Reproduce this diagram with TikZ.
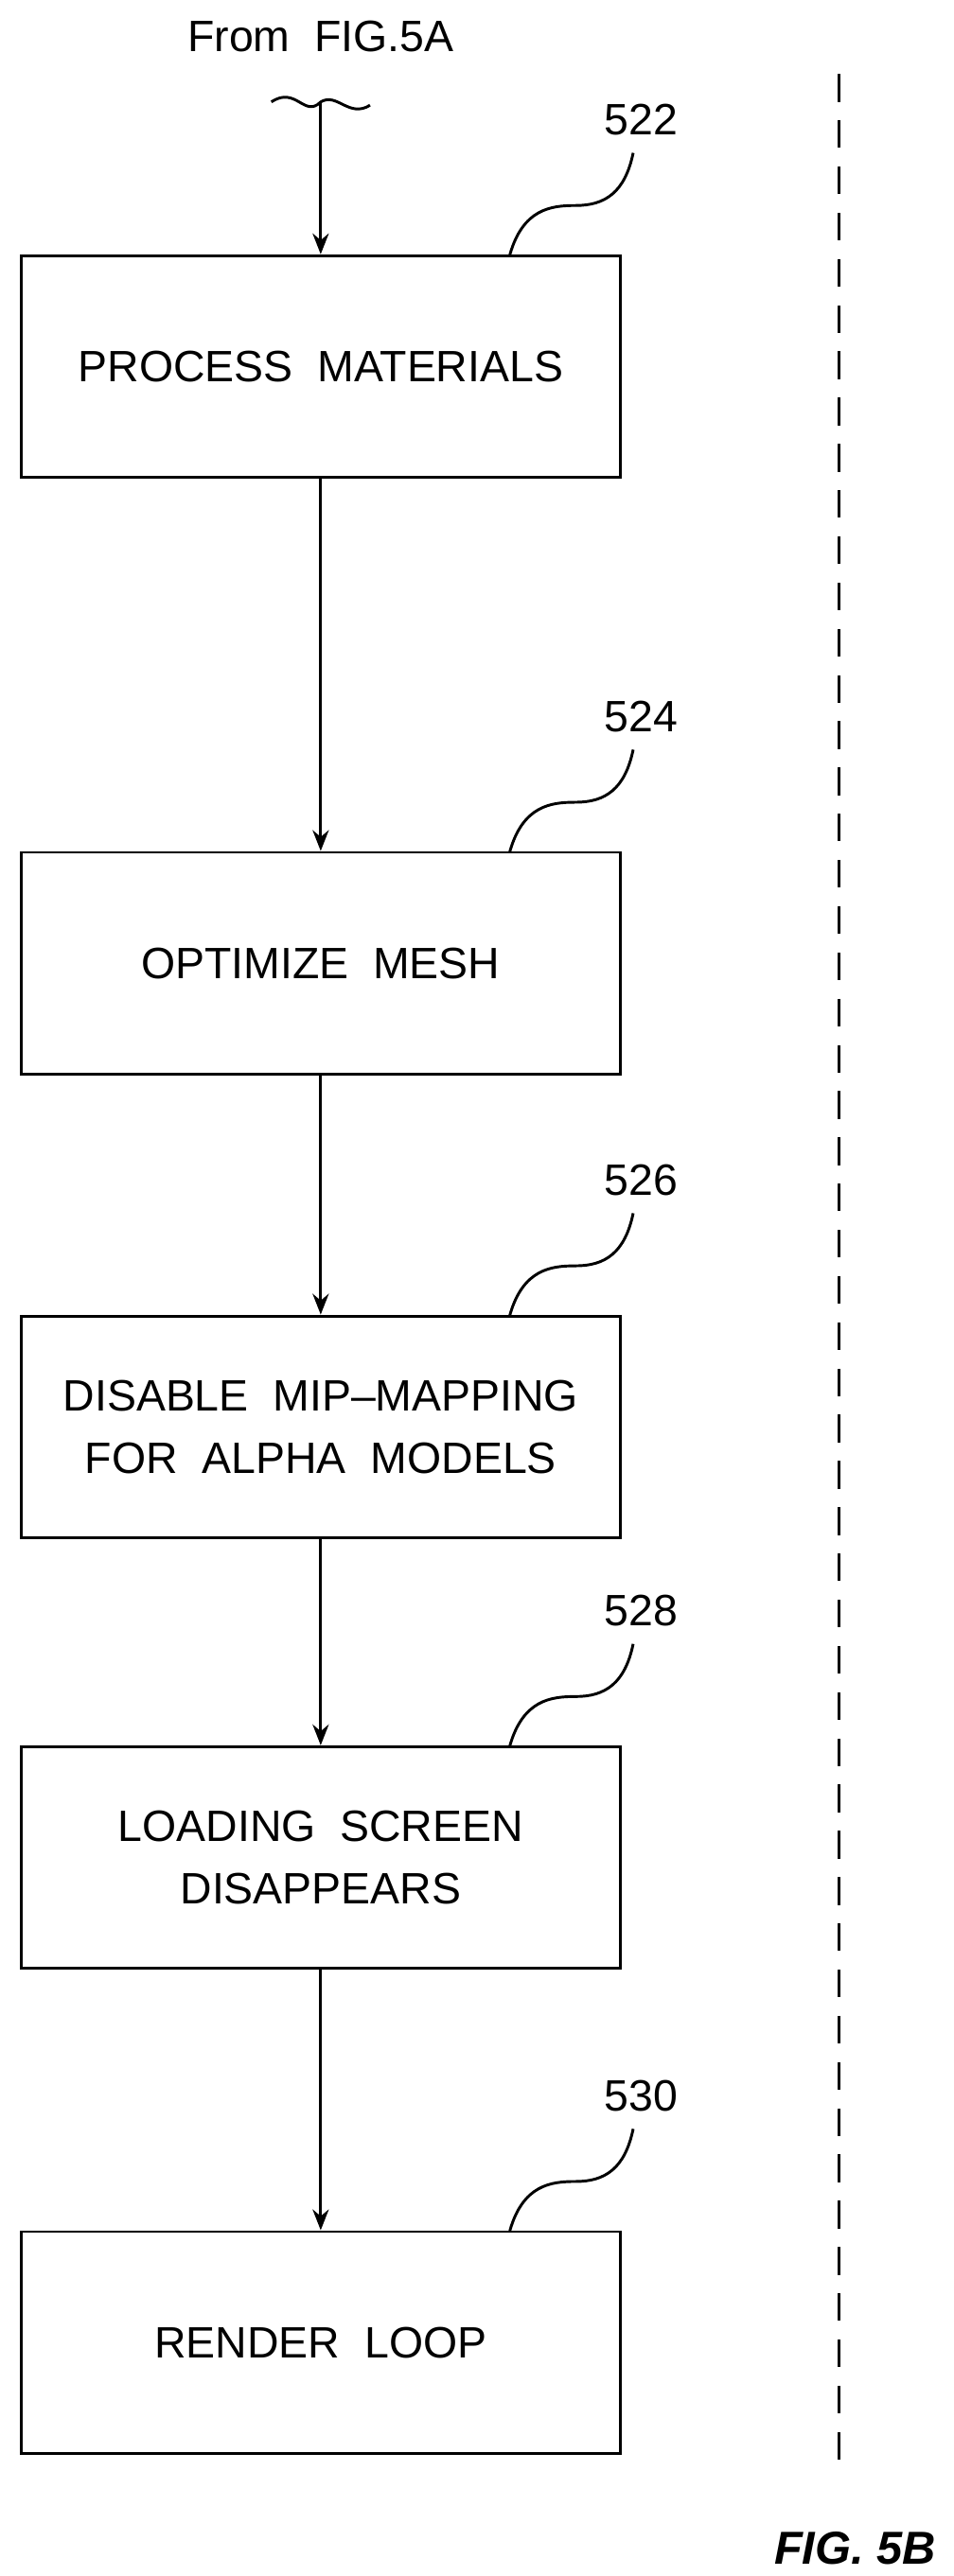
\documentclass[tikz,border=0pt]{standalone}
\usepackage{fontspec}
\setmainfont{Liberation Sans}
\usetikzlibrary{arrows.meta,positioning}
\tikzset{
    step box/.style = {
        draw, line width=1.2pt,
        minimum width=364*0.025cm,
        minimum height=135*0.025cm,
        align=center,
        font=\fontsize{19}{27}\selectfont,
        },
    flow/.style = {
        -{Stealth[length=9pt,width=7pt]},
        line width=1.2pt,
        },
    ref num/.style = {
        font=\fontsize{19}{22}\selectfont,
        },
    leader/.style = {
        line width=1.2pt,
        },
}
\begin{document}
\begin{tikzpicture}[x=0.025cm,y=-0.025cm]
    \useasboundingbox (0,0) rectangle (580,1567);
    % steps
    \node [step box] (s522) at (195,223) {PROCESS\ \ MATERIALS};
    \node [step box] (s524) at (195,586) {OPTIMIZE\ \ MESH};
    \node [step box] (s526) at (195,868) {DISABLE\ \ MIP--MAPPING\\FOR\ \ ALPHA\ \ MODELS};
    \node [step box] (s528) at (195,1130) {LOADING\ \ SCREEN\\DISAPPEARS};
    \node [step box] (s530) at (195,1425) {RENDER\ \ LOOP};

    % entry
    \node [ref num] (from) at (195,22) {From\ \ FIG.5A};
    \coordinate (in) at (195,62);
    \draw [leader] (165,62) .. controls (180,52) and (185,72) .. (in)
        .. controls (205,56) and (212,72) .. (225,64);
    \draw [flow] (in) -- (s522);
    \draw [flow] (s522) -- (s524);
    \draw [flow] (s524) -- (s526);
    \draw [flow] (s526) -- (s528);
    \draw [flow] (s528) -- (s530);

    % reference numerals
    \foreach \n/\y in {522/155, 524/518, 526/800, 528/1062, 530/1357} {
        \node [ref num] (n\n) at (390,\y-82) {\n};
        \draw [leader] (310,\y) .. controls (318,\y-28) and (335,\y-30) .. (350,\y-30)
            .. controls (368,\y-30) and (380,\y-38) .. (385,\y-62);
    }

    \draw [line width=1.2pt, dash pattern=on 12pt off 8pt] (510,45) -- (510,1500);
    \node [font=\fontsize{20}{24}\selectfont\bfseries\itshape] (fig) at (520,1550) {FIG. 5B};
\end{tikzpicture}
\end{document}
